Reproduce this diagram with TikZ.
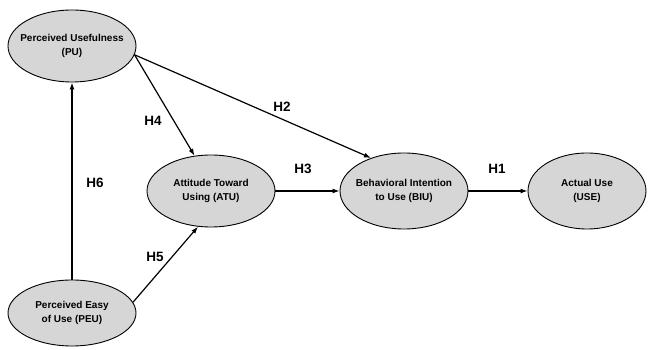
\documentclass[tikz,border=0pt]{standalone}
\usepackage{fontspec}
\setmainfont{Liberation Sans}
\usetikzlibrary{shapes.geometric,arrows.meta}

\tikzset{
  construct/.style={ellipse, draw, line width=0.9pt, fill=gray!32,
    minimum width=128pt, minimum height=72pt, inner xsep=-16pt, inner ysep=0pt,
    align=center, font=\fontsize{10}{14}\selectfont\bfseries},
  path/.style={line width=1.2pt, -{Latex[length=7pt,width=5pt]}},
  hyp/.style={font=\fontsize{13.5}{15}\selectfont\bfseries}
}

\begin{document}
\begin{tikzpicture}[x=1pt,y=1pt]
\useasboundingbox (0,0) rectangle (648,350);

% Constructs
\node[construct] (pu) at (72,304) {Perceived Usefulness\\(PU)};
\node[construct, minimum height=66pt] (peu) at (72,37) {Perceived Easy\\of Use (PEU)};
\node[construct] (atu) at (211,159) {Attitude Toward\\Using (ATU)};
\node[construct, minimum height=76pt] (biu) at (404,159) {Behavioral Intention\\to Use (BIU)};
\node[construct, minimum width=118pt, minimum height=76pt] (use) at (587,159) {Actual Use\\(USE)};

% Paths
\draw[path] (peu) -- (pu);
\draw[path] (peu.10) -- (atu.-110);
\draw[path] (pu.-8) -- (atu.115);
\draw[path] (pu.-8) -- (biu.135);
\draw[path] (atu) -- (biu);
\draw[path] (biu) -- (use);

% Hypotheses
\node[hyp] (h1) at (497,181) {H1};
\node[hyp] (h2) at (282,243) {H2};
\node[hyp] (h3) at (303,181) {H3};
\node[hyp] (h4) at (153,229) {H4};
\node[hyp] (h5) at (155,93) {H5};
\node[hyp] (h6) at (95,167) {H6};
\end{tikzpicture}
\end{document}
